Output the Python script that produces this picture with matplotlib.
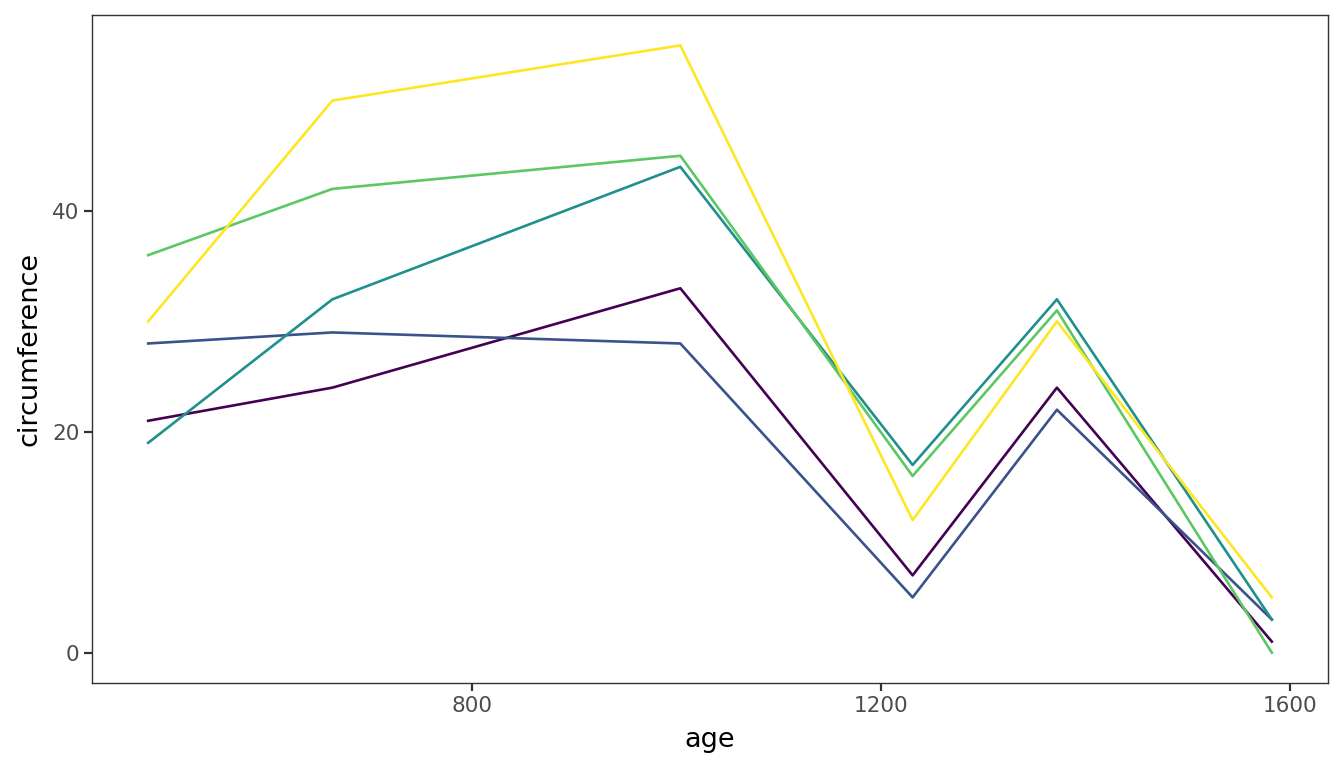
import matplotlib.pyplot as plt

# Orange trees: growth between successive measurements
age = [484, 664, 1004, 1231, 1372, 1582]
tree3 = [21, 24, 33, 7, 24, 1]
tree1 = [28, 29, 28, 5, 22, 3]
tree5 = [19, 32, 44, 17, 32, 3]
tree2 = [36, 42, 45, 16, 31, 0]
tree4 = [30, 50, 55, 12, 30, 5]

series = [tree3, tree1, tree5, tree2, tree4]
colors = ['#440154', '#3B528B', '#21908C', '#5DC863', '#FDE725']

fig = plt.figure(figsize=(13.44, 7.68), dpi=100)
ax = fig.add_axes([92 / 1344, 1 - 683 / 768, (1328 - 92) / 1344, (683 - 15) / 768])

for vals, c in zip(series, colors):
    ax.plot(age, vals, color=c, linewidth=1.9)

xmin, xmax = min(age), max(age)
pad = (xmax - xmin) * 0.05
ax.set_xlim(xmin - pad, xmax + pad)
ax.set_ylim(-2.75, 57.75)
ax.set_xticks([800, 1200, 1600])
ax.set_yticks([0, 20, 40])

for s in ax.spines.values():
    s.set_color('#333333')
    s.set_linewidth(1.0)
ax.tick_params(length=6, width=1.6, color='#333333', labelcolor='#4D4D4D',
               labelsize=15.5, pad=3)
ax.set_xlabel('age', fontsize=19.5, color='black', labelpad=8)
ax.set_ylabel('circumference', fontsize=19.5, color='black', labelpad=7)

fig.savefig('out.png', dpi=100)
